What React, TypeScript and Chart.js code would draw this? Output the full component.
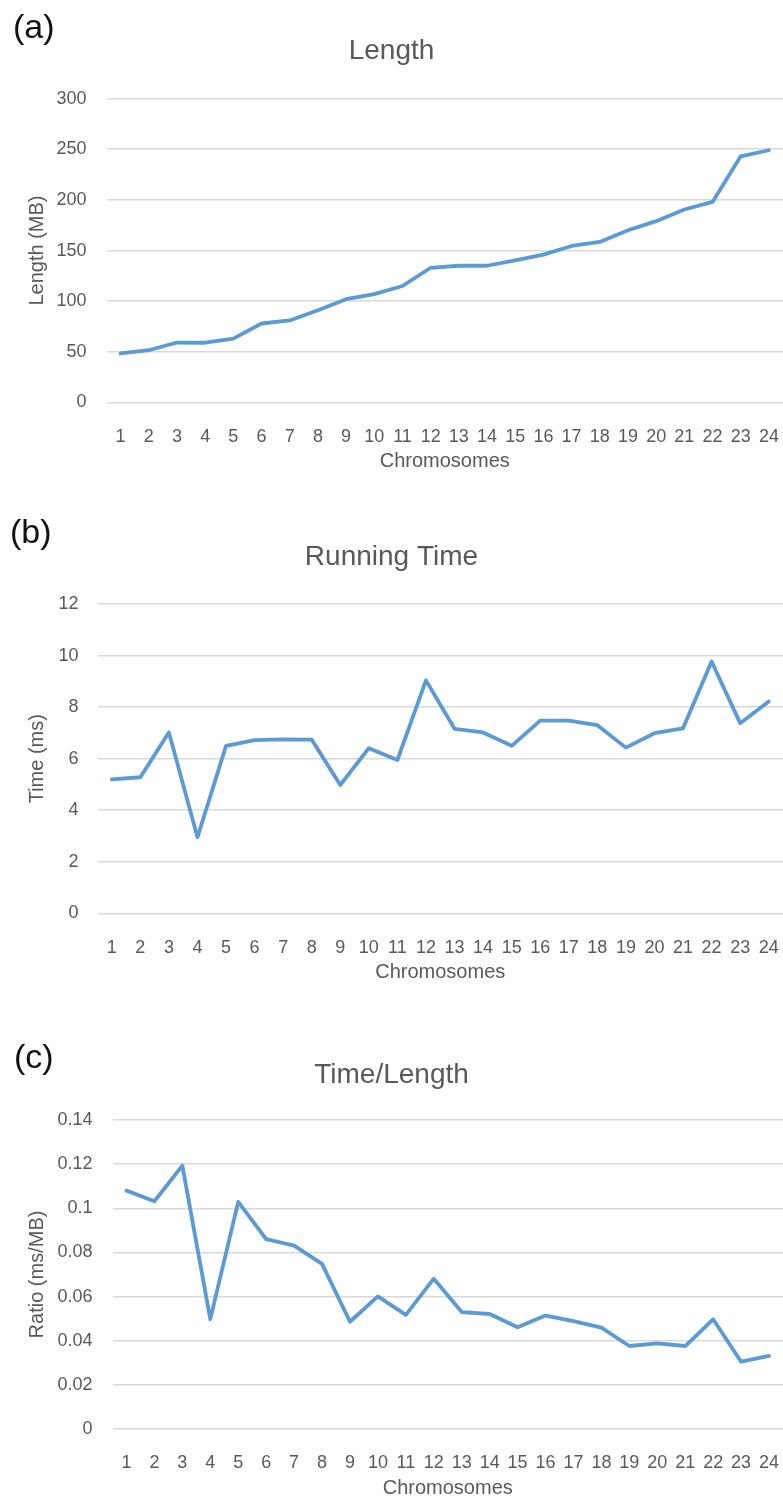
import React, { useEffect, useRef } from "react";
import { Chart, registerables } from "chart.js";

Chart.register(...registerables);

const chromosomes = ["1","2","3","4","5","6","7","8","9","10","11","12","13","14","15","16","17","18","19","20","21","22","23","24"];

const lengthMB = [48.4, 51.6, 59.2, 59, 63, 78, 81, 91, 102, 107, 115, 133, 135, 135, 140.4, 146, 154.5, 158.5, 170, 179, 190.5, 198, 243, 249];
const timeMs = [5.2, 5.28, 7.02, 2.95, 6.5, 6.72, 6.75, 6.74, 4.98, 6.41, 5.95, 9.04, 7.16, 7.02, 6.5, 7.48, 7.48, 7.3, 6.43, 6.99, 7.18, 9.77, 7.38, 8.22];
const ratioMsPerMB = [0.108, 0.1032, 0.1193, 0.0498, 0.1029, 0.086, 0.0831, 0.0748, 0.0486, 0.0601, 0.0517, 0.0681, 0.053, 0.0521, 0.0461, 0.0514, 0.0489, 0.0459, 0.0376, 0.0388, 0.0376, 0.0497, 0.0305, 0.0331];

const lengthTicks = ["0", "50", "100", "150", "200", "250", "300"];
const timeTicks = ["0", "2", "4", "6", "8", "10", "12"];
const ratioTicks = ["0", "0.02", "0.04", "0.06", "0.08", "0.1", "0.12", "0.14"];

const FONT = "'Liberation Sans', Arial, sans-serif";
const TEXT = "#595959";
const GRID = "#D9D9D9";
const LINE = "#5B9BD5";

type PanelProps = {
  top: number;
  height: number;
  letter: string;
  letterTop: number;
  letterLeft: number;
  title: string;
  titlePadTop: number;
  titlePadBottom: number;
  yTitle: string;
  data: number[];
  yMax: number;
  yStep: number;
  yLabels: string[];
  yWidth: number;
  yTickPad: number;
  xHeight: number;
  xTickPad: number;
  xTitlePadBottom: number;
};

function Panel(p: PanelProps) {
  const ref = useRef<HTMLCanvasElement | null>(null);
  useEffect(() => {
    if (!ref.current) return;
    const chart = new Chart(ref.current, {
      type: "line",
      data: {
        labels: chromosomes,
        datasets: [
          {
            data: p.data,
            borderColor: LINE,
            backgroundColor: LINE,
            borderWidth: 3.8,
            pointRadius: 0,
            tension: 0,
            borderJoinStyle: "round",
            borderCapStyle: "round",
          },
        ],
      },
      options: {
        animation: false,
        responsive: false,
        devicePixelRatio: 1,
        layout: { padding: 0 },
        plugins: {
          legend: { display: false },
          tooltip: { enabled: false },
          title: {
            display: true,
            text: p.title,
            color: TEXT,
            font: { family: FONT, size: 28, weight: "normal", lineHeight: 1.2 },
            padding: { top: p.titlePadTop, bottom: p.titlePadBottom },
          },
        },
        scales: {
          x: {
            offset: true,
            grid: { display: false },
            border: { display: false },
            ticks: {
              color: TEXT,
              font: { family: FONT, size: 18, lineHeight: 1.2 },
              padding: p.xTickPad,
              maxRotation: 0,
              autoSkip: false,
            },
            title: {
              display: true,
              text: "Chromosomes",
              color: TEXT,
              font: { family: FONT, size: 20, lineHeight: 1.2 },
              padding: { top: 0, bottom: p.xTitlePadBottom },
            },
            afterFit: (s: any) => {
              s.height = p.xHeight;
              s.paddingLeft = 0;
              s.paddingRight = 0;
            },
          },
          y: {
            min: 0,
            max: p.yMax,
            grid: { color: GRID, lineWidth: 1.5, drawTicks: false },
            border: { display: false },
            ticks: {
              stepSize: p.yStep,
              color: TEXT,
              font: { family: FONT, size: 18, lineHeight: 1.2 },
              padding: p.yTickPad,
              callback: (_v: any, i: number) => p.yLabels[i],
            },
            title: {
              display: true,
              text: p.yTitle,
              color: TEXT,
              font: { family: FONT, size: 20, lineHeight: 1.2 },
              padding: { top: 25, bottom: 0 },
            },
            afterFit: (s: any) => {
              s.width = p.yWidth;
              s.paddingTop = 0;
              s.paddingBottom = 0;
            },
          },
        },
      },
    });
    return () => chart.destroy();
  }, []);
  return (
    <div style={{ position: "absolute", left: 0, top: p.top, width: 783, height: p.height }}>
      <canvas ref={ref} width={783} height={p.height} style={{ display: "block" }} />
      <div
        style={{
          position: "absolute",
          left: p.letterLeft,
          top: p.letterTop,
          fontFamily: FONT,
          fontSize: 34,
          lineHeight: "34px",
          color: "#111",
          whiteSpace: "nowrap",
        }}
      >
        {p.letter}
      </div>
    </div>
  );
}

export default function App() {
  return (
    <div style={{ position: "absolute", left: 0, top: 0, width: 783, height: 1500, background: "#fff", overflow: "hidden" }}>
      <Panel
        top={0}
        height={485}
        letter="(a)"
        letterTop={9}
        letterLeft={13}
        title="Length"
        titlePadTop={34}
        titlePadBottom={31}
        yTitle="Length (MB)"
        data={lengthMB}
        yMax={300}
        yStep={50}
        yLabels={lengthTicks}
        yWidth={106.5}
        yTickPad={20}
        xHeight={82.5}
        xTickPad={16}
        xTitlePadBottom={12}
      />
      <Panel
        top={485}
        height={505}
        letter="(b)"
        letterTop={29}
        letterLeft={10}
        title="Running Time"
        titlePadTop={55}
        titlePadBottom={30.5}
        yTitle="Time (ms)"
        data={timeMs}
        yMax={12}
        yStep={2}
        yLabels={timeTicks}
        yWidth={97.5}
        yTickPad={19}
        xHeight={76.7}
        xTickPad={16}
        xTitlePadBottom={6}
      />
      <Panel
        top={990}
        height={510}
        letter="(c)"
        letterTop={49}
        letterLeft={14}
        title="Time/Length"
        titlePadTop={68}
        titlePadBottom={28.4}
        yTitle="Ratio (ms/MB)"
        data={ratioMsPerMB}
        yMax={0.14}
        yStep={0.02}
        yLabels={ratioTicks}
        yWidth={112.5}
        yTickPad={20}
        xHeight={71}
        xTickPad={15}
        xTitlePadBottom={0}
      />
    </div>
  );
}
